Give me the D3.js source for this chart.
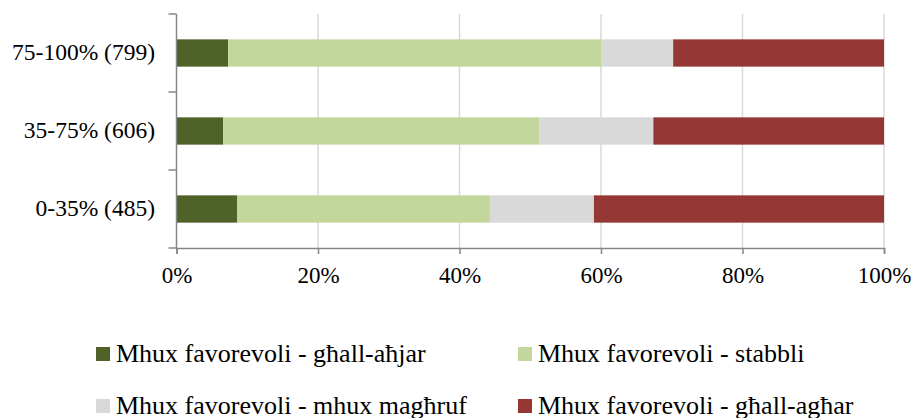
<!DOCTYPE html>
<html>
<head>
<meta charset="utf-8">
<script src="https://cdn.jsdelivr.net/npm/d3@7"></script>
<style>
  body { margin: 0; background: #fff; }
  text { fill: #000; }
</style>
</head>
<body>
<svg id="vis" width="911" height="418"></svg>
<script>
// data (percent shares per group)
const categories = ['75-100% (799)', '35-75% (606)', '0-35% (485)'];
const seriesNames = [
  'Mhux favorevoli - għall-aħjar',
  'Mhux favorevoli - stabbli',
  'Mhux favorevoli - mhux magħruf',
  'Mhux favorevoli - għall-agħar'
];
const better  = [7.3, 6.6, 8.6];
const stable  = [52.7, 44.7, 35.7];
const unknown = [10.2, 16.1, 14.7];
const worse   = [29.8, 32.6, 41.0];
const xTicks = [0, 20, 40, 60, 80, 100];
const colors = ['#4F6228', '#C3D69B', '#D9D9D9', '#953735'];

const serif = '"Liberation Serif", "Times New Roman", Times, Tinos, "Noto Serif", FreeSerif, "Nimbus Roman", "DejaVu Serif", serif';
const vis = d3.select('#vis');
const plot = { left: 176.5, right: 884, top: 14, bottom: 248 };

const x = d3.scaleLinear().domain([0, 100]).range([plot.left, plot.right]);
const y = d3.scaleBand().domain(categories).range([plot.top, plot.bottom]).paddingInner(0.65).paddingOuter(0.325);

// build rows for stacking
const rows = categories.map((c, i) => ({
  cat: c, s0: better[i], s1: stable[i], s2: unknown[i], s3: worse[i]
}));
const stack = d3.stack().keys(['s0', 's1', 's2', 's3'])(rows);

// gridlines
vis.append('g')
  .selectAll('line')
  .data(xTicks.slice(1))
  .enter()
  .append('line')
  .attr('x1', d => x(d)).attr('x2', d => x(d))
  .attr('y1', plot.top).attr('y2', plot.bottom)
  .attr('stroke', '#D9D9D9')
  .attr('stroke-width', 1.5);

// bars
vis.append('g')
  .selectAll('g')
  .data(stack)
  .enter()
  .append('g')
  .attr('fill', (d, i) => colors[i])
  .selectAll('rect')
  .data(d => d)
  .enter()
  .append('rect')
  .attr('x', d => x(d[0]))
  .attr('width', d => x(d[1]) - x(d[0]))
  .attr('y', d => y(d.data.cat))
  .attr('height', y.bandwidth());

// y axis (category bands with tick separators)
const yAxis = vis.append('g');
yAxis.append('line')
  .attr('x1', plot.left).attr('x2', plot.left)
  .attr('y1', plot.top).attr('y2', plot.bottom)
  .attr('stroke', '#868686').attr('stroke-width', 1.5);
const bandEdges = categories.map(c => y(c) - (y.step() - y.bandwidth()) / 2)
  .concat([plot.bottom]);
yAxis.selectAll('line.tick')
  .data(bandEdges)
  .enter()
  .append('line')
  .attr('class', 'tick')
  .attr('x1', plot.left - 8).attr('x2', plot.left)
  .attr('y1', d => d).attr('y2', d => d)
  .attr('stroke', '#868686').attr('stroke-width', 1.5);
yAxis.selectAll('text')
  .data(categories)
  .enter()
  .append('text')
  .attr('x', 155)
  .attr('y', d => y(d) + y.bandwidth() / 2)
  .attr('dy', '0.3em')
  .attr('text-anchor', 'end')
  .style('font-family', serif)
  .style('font-size', '23.5px')
  .text(d => d);

// x axis
const xAxis = vis.append('g').attr('transform', `translate(0,${plot.bottom})`)
  .call(d3.axisBottom(x).tickValues(xTicks).tickFormat(d => d + '%').tickSizeOuter(0).tickSize(6).tickPadding(13));
xAxis.attr('font-family', null);
xAxis.select('.domain').attr('stroke', '#868686').attr('stroke-width', 1.5);
xAxis.selectAll('.tick line').attr('stroke', '#868686').attr('stroke-width', 1.5);
xAxis.selectAll('.tick text')
  .style('font-size', '23px')
  .style('font-family', serif)
  .attr('fill', '#000');

// legend
const legendPos = [[96, 354], [518, 354], [96, 406], [518, 406]];
const legend = vis.append('g')
  .selectAll('g')
  .data(seriesNames)
  .enter()
  .append('g')
  .attr('transform', (d, i) => `translate(${legendPos[i][0]},${legendPos[i][1]})`);
legend.append('rect')
  .attr('x', 0).attr('y', -7)
  .attr('width', 14).attr('height', 14)
  .attr('fill', (d, i) => colors[i]);
legend.append('text')
  .attr('x', 20)
  .attr('y', 7.5)
  .style('font-family', serif)
  .style('font-size', '26px')
  .text(d => d);
</script>
</body>
</html>
